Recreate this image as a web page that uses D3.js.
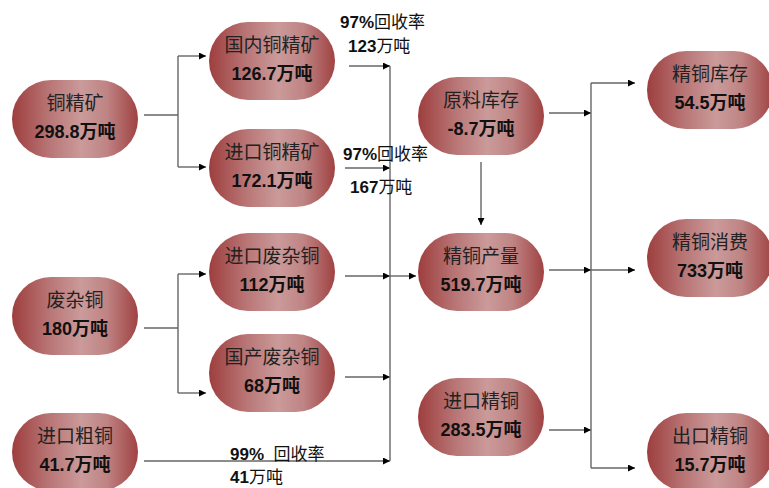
<!DOCTYPE html>
<html>
<head>
<meta charset="utf-8">
<script src="https://cdn.jsdelivr.net/npm/d3@7"></script>
<style>
  body { margin: 0; background: #fff; }
  svg { display: block; font-family: "Liberation Sans", "Noto Sans CJK SC", sans-serif; }
</style>
</head>
<body>
<div id="chart"></div>
<script>
// node data
const nodeNames = ["铜精矿", "国内铜精矿", "进口铜精矿", "废杂铜", "进口废杂铜", "国产废杂铜", "进口粗铜",
  "原料库存", "精铜产量", "进口精铜", "精铜库存", "精铜消费", "出口精铜"];
const nodeValues = [298.8, 126.7, 172.1, 180, 112, 68, 41.7, -8.7, 519.7, 283.5, 54.5, 733, 15.7];

// recovery labels on the flows into refining
const flowRates = [97, 97, 99];
const flowAmounts = [123, 167, 41];

const width = 769;
const height = 488;

// layout: column index and vertical centre for each node
const layout = {
  "铜精矿": { col: 0, cy: 119 },
  "国内铜精矿": { col: 1, cy: 61 },
  "进口铜精矿": { col: 1, cy: 168 },
  "废杂铜": { col: 0, cy: 316 },
  "进口废杂铜": { col: 1, cy: 272 },
  "国产废杂铜": { col: 1, cy: 373 },
  "进口粗铜": { col: 0, cy: 452 },
  "原料库存": { col: 2, cy: 116 },
  "精铜产量": { col: 2, cy: 272 },
  "进口精铜": { col: 2, cy: 417 },
  "精铜库存": { col: 3, cy: 90 },
  "精铜消费": { col: 3, cy: 258 },
  "出口精铜": { col: 3, cy: 452 }
};

const x = d3.scaleOrdinal().domain([0, 1, 2, 3]).range([75, 272, 481, 710]);
const nodeW = 126;
const nodeH = 78;

const nodes = nodeNames.map((name, i) => ({
  name,
  value: nodeValues[i],
  cx: x(layout[name].col),
  cy: layout[name].cy
}));
const byName = Object.fromEntries(nodes.map((d) => [d.name, d]));
const left = (n) => byName[n].cx - nodeW / 2;
const right = (n) => byName[n].cx + nodeW / 2;
const cy = (n) => byName[n].cy;

const svg = d3.select("#chart").append("svg").attr("width", width).attr("height", height);

const defs = svg.append("defs");
const grad = defs.append("linearGradient").attr("id", "nodeFill").attr("x1", "0%").attr("x2", "100%");
[["0%", "#9e3e3e"], ["30%", "#b97676"], ["55%", "#cb9a9a"], ["75%", "#bf8484"], ["100%", "#a04242"]]
  .forEach(([o, c]) => grad.append("stop").attr("offset", o).attr("stop-color", c));

defs.append("marker")
  .attr("id", "arrow")
  .attr("viewBox", "0 0 10 10")
  .attr("refX", 10)
  .attr("refY", 5)
  .attr("markerWidth", 9)
  .attr("markerHeight", 7)
  .attr("markerUnits", "userSpaceOnUse")
  .attr("orient", "auto")
  .append("path")
  .attr("d", "M0,0L10,5L0,10Z")
  .attr("fill", "#000");

const line = d3.line();
const links = svg.append("g").attr("fill", "none").attr("stroke", "#666").attr("stroke-width", 1.4);

function seg(points, arrow) {
  links.append("path")
    .attr("d", line(points))
    .attr("marker-end", arrow ? "url(#arrow)" : null);
}

// split brackets on the left
function split(src, a, b, trunkX, srcDy, aDy, bDy) {
  const ya = cy(a) + aDy;
  const yb = cy(b) + bDy;
  seg([[right(src) + 6, cy(src) + srcDy], [trunkX, cy(src) + srcDy]]);
  seg([[trunkX, ya], [trunkX, yb]]);
  seg([[trunkX, ya], [left(a) - 3, ya]], true);
  seg([[trunkX, yb], [left(b) - 3, yb]], true);
}
split("铜精矿", "国内铜精矿", "进口铜精矿", 178, -4, -5, -1);
split("废杂铜", "进口废杂铜", "国产废杂铜", 178, 12, 2, 20);

// collector into refined output
const trunk1 = 390;
const feeds = [
  { src: "国内铜精矿", dy: 5, start: right("国内铜精矿") + 14 },
  { src: "进口铜精矿", dy: 0, start: right("进口铜精矿") + 10 },
  { src: "进口废杂铜", dy: 4, start: right("进口废杂铜") + 10 },
  { src: "国产废杂铜", dy: 4, start: right("国产废杂铜") + 10 },
  { src: "进口粗铜", dy: 9, start: right("进口粗铜") + 6 }
];
feeds.forEach((f) => seg([[f.start, cy(f.src) + f.dy], [trunk1, cy(f.src) + f.dy]], true));
seg([[trunk1, cy("国内铜精矿") + 5], [trunk1, cy("进口粗铜") + 9]]);
seg([[trunk1, cy("精铜产量") + 4], [left("精铜产量") - 2, cy("精铜产量") + 4]], true);

// stock change into output
seg([[byName["原料库存"].cx, cy("原料库存") + nodeH / 2 + 7], [byName["原料库存"].cx, cy("精铜产量") - nodeH / 2 - 8]], true);

// distribution on the right
const trunk2 = 591;
[["原料库存", -3], ["精铜产量", -2], ["进口精铜", 13]].forEach(([n, dy]) =>
  seg([[right(n) + 5, cy(n) + dy], [trunk2, cy(n) + dy]], true));
const outs = [["精铜库存", -7], ["精铜消费", 12], ["出口精铜", 16]];
seg([[trunk2, cy("精铜库存") - 7], [trunk2, cy("出口精铜") + 16]]);
outs.forEach(([n, dy]) => seg([[trunk2, cy(n) + dy], [left(n) - 12, cy(n) + dy]], true));

// nodes
const node = svg.selectAll("g.node")
  .data(nodes)
  .enter()
  .append("g")
  .attr("class", "node")
  .attr("transform", (d) => `translate(${d.cx},${d.cy})`);

node.append("rect")
  .attr("x", -nodeW / 2)
  .attr("y", -nodeH / 2)
  .attr("width", nodeW)
  .attr("height", nodeH)
  .attr("rx", nodeH / 2)
  .attr("fill", "url(#nodeFill)");

node.append("text")
  .attr("text-anchor", "middle")
  .attr("y", -9)
  .attr("font-size", 19)
  .attr("fill", "#222")
  .text((d) => d.name);

node.append("text")
  .attr("text-anchor", "middle")
  .attr("y", 19)
  .attr("font-size", 18)
  .attr("font-weight", "bold")
  .attr("fill", "#111")
  .text((d) => `${d.value}万吨`);

// flow labels
const labelPos = [
  { x: 340, y1: 28, x2: 348, y2: 52, gap: "" },
  { x: 343, y1: 160, x2: 350, y2: 193, gap: "" },
  { x: 230, y1: 460, x2: 230, y2: 483, gap: "\u00a0\u00a0" }
];
labelPos.forEach((p, i) => {
  const t = svg.append("text").attr("x", p.x).attr("y", p.y1).attr("font-size", 17).attr("fill", "#111");
  t.append("tspan").attr("font-weight", "bold").text(`${flowRates[i]}%${p.gap}`);
  t.append("tspan").text("回收率");
  const t2 = svg.append("text").attr("x", p.x2).attr("y", p.y2).attr("font-size", 17).attr("fill", "#111");
  t2.append("tspan").attr("font-weight", "bold").text(flowAmounts[i]);
  t2.append("tspan").text("万吨");
});
</script>
</body>
</html>
